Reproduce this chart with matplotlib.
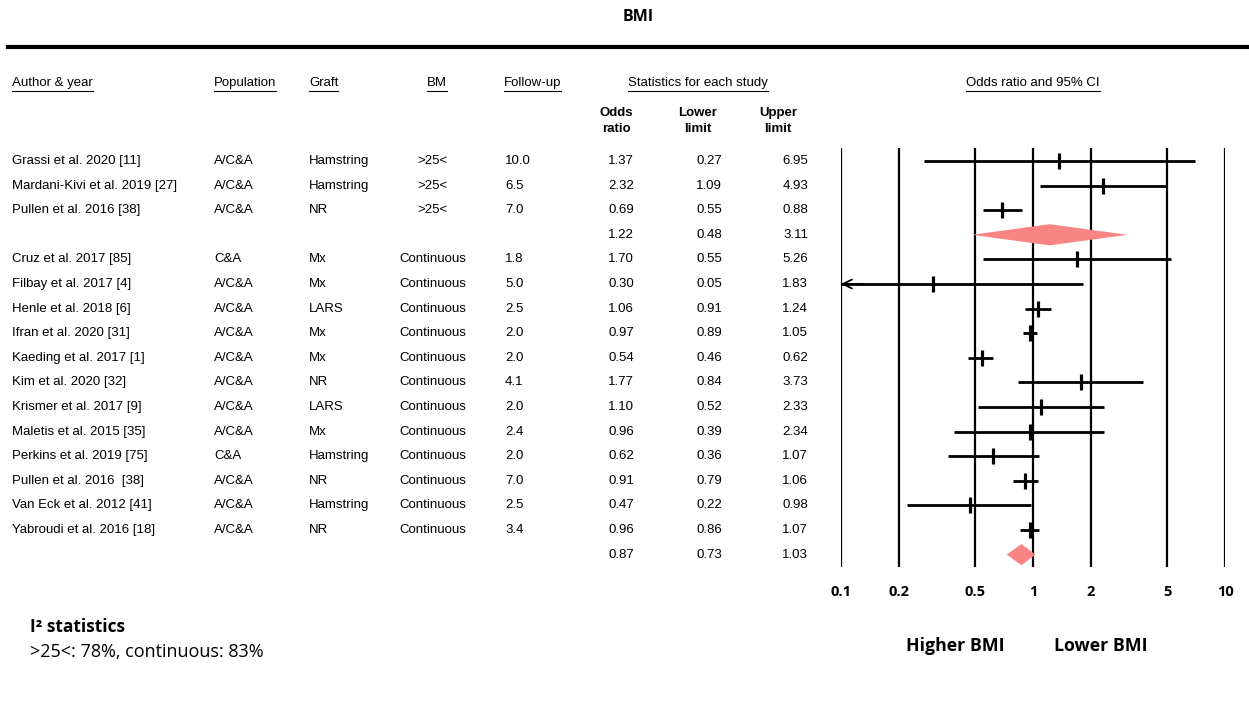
import matplotlib.pyplot as plt
import matplotlib.transforms as mtransforms
import numpy as np

authors = ['Grassi et al. 2020 [11]', 'Mardani-Kivi et al. 2019 [27]', 'Pullen et al. 2016 [38]', '',
           'Cruz et al. 2017 [85]', 'Filbay et al. 2017 [4]', 'Henle et al. 2018 [6]', 'Ifran et al. 2020 [31]',
           'Kaeding et al. 2017 [1]', 'Kim et al. 2020 [32]', 'Krismer et al. 2017 [9]', 'Maletis et al. 2015 [35]',
           'Perkins et al. 2019 [75]', 'Pullen et al. 2016  [38]', 'Van Eck et al. 2012 [41]',
           'Yabroudi et al. 2016 [18]', '']
population = ['A/C&A', 'A/C&A', 'A/C&A', '', 'C&A', 'A/C&A', 'A/C&A', 'A/C&A', 'A/C&A', 'A/C&A', 'A/C&A',
              'A/C&A', 'C&A', 'A/C&A', 'A/C&A', 'A/C&A', '']
graft = ['Hamstring', 'Hamstring', 'NR', '', 'Mx', 'Mx', 'LARS', 'Mx', 'Mx', 'NR', 'LARS', 'Mx', 'Hamstring',
         'NR', 'Hamstring', 'NR', '']
bmi = ['>25<', '>25<', '>25<', ''] + ['Continuous'] * 12 + ['']
follow_up = ['10.0', '6.5', '7.0', '', '1.8', '5.0', '2.5', '2.0', '2.0', '4.1', '2.0', '2.4', '2.0', '7.0',
             '2.5', '3.4', '']
odds = [1.37, 2.32, 0.69, 1.22, 1.70, 0.30, 1.06, 0.97, 0.54, 1.77, 1.10, 0.96, 0.62, 0.91, 0.47, 0.96, 0.87]
lower = [0.27, 1.09, 0.55, 0.48, 0.55, 0.05, 0.91, 0.89, 0.46, 0.84, 0.52, 0.39, 0.36, 0.79, 0.22, 0.86, 0.73]
upper = [6.95, 4.93, 0.88, 3.11, 5.26, 1.83, 1.24, 1.05, 0.62, 3.73, 2.33, 2.34, 1.07, 1.06, 0.98, 1.07, 1.03]
summary_rows = [3, 16]
ticks = [0.1, 0.2, 0.5, 1, 2, 5, 10]
tick_labels = ['0.1', '0.2', '0.5', '1', '2', '5', '10']

W, H = 1249, 705
narrow = ['Liberation Sans Narrow', 'Liberation Sans', 'DejaVu Sans']
calibri = ['Open Sans', 'DejaVu Sans']
pink = '#F98484'

fig = plt.figure(figsize=(W / 100, H / 100), dpi=100)


def fx(px):
    return px / W


def fy(py):
    return 1 - py / H


row0, step = 161, 24.6
top_px, bot_px = 148, 567
ax = fig.add_axes([fx(841), fy(bot_px), fx(1225) - fx(841), (bot_px - top_px) / H])
ax.set_xscale('log')
ax.set_xlim(0.1, 10)
ax.set_ylim((bot_px - row0) / step, (top_px - row0) / step)
for s in ax.spines.values():
    s.set_visible(False)
for t in ticks:
    ax.axvline(t, color='black', lw=1.6)
ax.set_yticks([])
ax.set_xticks(ticks)
ax.set_xticklabels(tick_labels, fontweight='bold', family=calibri, fontsize=10.5)
ax.minorticks_off()
ax.tick_params(axis='x', length=0, pad=13)

for i in range(len(odds)):
    if i in summary_rows:
        h = 0.43
        ax.fill([lower[i], odds[i], upper[i], odds[i]], [i, i - h, i, i + h], color=pink, lw=0, zorder=3)
        continue
    lo = max(lower[i], 0.1)
    hi = min(upper[i], 10)
    ax.plot([lo, hi], [i, i], color='black', lw=2.0, solid_capstyle='butt', zorder=3)
    ax.plot(odds[i], i, marker='|', color='black', markersize=12, markeredgewidth=2.3, zorder=4)
    if lower[i] < 0.1:
        ax.annotate('', xy=(0.1, i), xytext=(0.13, i),
                    arrowprops=dict(arrowstyle='->', color='black', lw=1.3, mutation_scale=16,
                                    shrinkA=0, shrinkB=0))

# table columns
tr = mtransforms.blended_transform_factory(fig.transFigure, ax.transData)
fs = 9.5
for i in range(len(odds)):
    ax.text(fx(12), i, authors[i], transform=tr, family=narrow, fontsize=fs, va='center')
    ax.text(fx(214), i, population[i], transform=tr, family=narrow, fontsize=fs, va='center')
    ax.text(fx(309), i, graft[i], transform=tr, family=narrow, fontsize=fs, va='center')
    ax.text(fx(433), i, bmi[i], transform=tr, family=narrow, fontsize=fs, va='center', ha='center')
    ax.text(fx(505), i, follow_up[i], transform=tr, family=narrow, fontsize=fs, va='center')
    ax.text(fx(634), i, '%.2f' % odds[i], transform=tr, family=narrow, fontsize=fs, va='center', ha='right')
    ax.text(fx(722), i, '%.2f' % lower[i], transform=tr, family=narrow, fontsize=fs, va='center', ha='right')
    ax.text(fx(808), i, '%.2f' % upper[i], transform=tr, family=narrow, fontsize=fs, va='center', ha='right')

# headers
headers = [(12, 'left', 'Author & year'), (214, 'left', 'Population'), (309, 'left', 'Graft'),
           (437, 'center', 'BM'), (504, 'left', 'Follow-up'), (698, 'center', 'Statistics for each study'),
           (1033, 'center', 'Odds ratio and 95% CI')]
head_texts = []
for x, ha, s in headers:
    head_texts.append(fig.text(fx(x), fy(83), s, ha=ha, va='center', family=narrow, fontsize=fs))
for x, s in [(616, 'Odds\nratio'), (698, 'Lower\nlimit'), (778, 'Upper\nlimit')]:
    fig.text(fx(x), fy(121), s, ha='center', va='center', family=narrow, fontsize=fs,
             fontweight='bold', linespacing=1.35)

fig.text(fx(638), fy(17), 'BMI', ha='center', va='center', family=calibri, fontsize=11.5, fontweight='bold')
fig.add_artist(plt.Line2D([fx(8), 1], [fy(47), fy(47)], color='black', lw=3))

fig.text(fx(30), fy(627), 'I² statistics', ha='left', va='center', family=calibri, fontsize=12.5,
         fontweight='bold')
fig.text(fx(30), fy(652), '>25<: 78%, continuous: 83%', ha='left', va='center', family=calibri, fontsize=13)
fig.text(fx(955), fy(646), 'Higher BMI', ha='center', va='center', family=calibri, fontsize=12.8,
         fontweight='bold')
fig.text(fx(1101), fy(646), 'Lower BMI', ha='center', va='center', family=calibri, fontsize=12.8,
         fontweight='bold')

# underline headers
fig.canvas.draw()
renderer = fig.canvas.get_renderer()
for t in head_texts:
    bb = t.get_window_extent(renderer)
    yline = bb.y0 - 1.5
    fig.add_artist(plt.Line2D([bb.x0 / W, bb.x1 / W], [yline / H, yline / H], color='black', lw=0.8))

fig.savefig('out.png', dpi=100)
